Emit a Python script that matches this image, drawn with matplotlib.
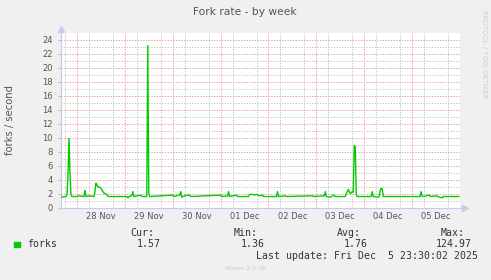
#!/usr/bin/env python3

import matplotlib
matplotlib.use("Agg")
import matplotlib.pyplot as plt

# Hours since 28 Nov 00:00 and fork rate (forks / second)
hours = [
    -8, -5.5, -5, -4.5, -4, -3.5, -3, -2.5, 0, 1, 3.5, 4, 4.5, 6, 8.5, 9,
    9.5, 10, 10.5, 11.5, 12, 13, 14, 15, 15.5, 20, 25, 25.5, 26, 27.5, 28,
    28.5, 32, 32.5, 35, 35.5, 36, 36.5, 48, 48.5, 51.5, 52, 52.5, 53, 55.5,
    56.5, 57, 72, 72.5, 75.5, 76, 76.5, 80, 80.5, 86, 86.5, 88, 89, 90, 91.5,
    93, 93.5, 100, 100.5, 101, 104.5, 105, 118, 118.5, 124, 124.5, 125, 127,
    127.5, 129, 129.5, 134.5, 135, 136, 137, 138, 138.5, 139, 139.5, 140,
    140.5, 142, 147.5, 148, 148.5, 151, 151.5, 152, 152.5, 153, 153.5, 172,
    172.5, 173, 173.5, 176.5, 177, 180, 183, 183.5, 191.5,
]
forks = [
    1.5, 1.6, 1.9, 4.5, 9.9, 5.0, 1.8, 1.6, 1.6, 1.7, 1.6, 2.5, 1.6, 1.7, 1.6, 2.2,
    3.5, 3.3, 3.0, 2.9, 2.8, 2.3, 2.0, 1.9, 1.6, 1.6, 1.6, 1.4, 1.6, 1.7, 2.3,
    1.6, 1.8, 1.6, 1.6, 23.2, 2.0, 1.6, 1.8, 1.6, 1.8, 2.3, 1.5, 1.6, 1.8,
    1.8, 1.6, 1.8, 1.6, 1.7, 2.3, 1.6, 1.8, 1.6, 1.6, 1.9, 1.9, 1.8, 1.9, 1.7,
    1.8, 1.6, 1.6, 2.3, 1.6, 1.7, 1.6, 1.7, 1.6, 1.7, 2.3, 1.6, 1.5,
    1.6, 1.8, 1.6, 1.6, 2.0, 2.6, 2.0, 2.3, 2.2, 8.9, 8.7, 1.8,
    1.6, 1.6, 1.6, 2.3, 1.6, 1.5, 1.6, 2.5, 2.8, 2.7, 1.6, 1.6,
    2.3, 1.7, 1.6, 1.8, 1.6, 1.7, 1.4, 1.6, 1.6,
]

day_labels = ["28 Nov", "29 Nov", "30 Nov", "01 Dec", "02 Dec", "03 Dec", "04 Dec", "05 Dec"]
label_pos = [12 + 24 * i for i in range(len(day_labels))]
day_bounds = [24 * i for i in range(9)]
six_hours = [h for h in range(-6, 192, 6) if h % 24 != 0]

stats_names = ["Cur:", "Min:", "Avg:", "Max:"]
stats_values = ["1.57", "1.36", "1.76", "124.97"]

W, H = 491, 280
fig = plt.figure(figsize=(W / 100, H / 100), dpi=100)
fig.patch.set_facecolor("#F0F0F0")

ax = fig.add_axes([61 / W, 1 - 207.7 / H, 399 / W, (207.7 - 33) / H])
ax.set_facecolor("white")
ax.set_xlim(-8, 192)
ax.set_ylim(0, 25)
ax.set_axisbelow(True)

grid_minor = dict(color="#C8C8C8", linestyle=(0, (1.4, 1.4)), linewidth=0.7)
grid_major = dict(color="#F0A0A0", linestyle=(0, (1.4, 1.4)), linewidth=0.7)

# y grid
ax.set_yticks(range(0, 25, 2))
ax.set_yticks(range(1, 25, 2), minor=True)
ax.yaxis.grid(True, which="major", **grid_major)
ax.yaxis.grid(True, which="minor", **grid_minor)
ax.tick_params(axis="y", which="major", length=2.5, width=0.7, color="#F0A0A0",
               labelsize=6, labelcolor="#555555", pad=3.5)
ax.tick_params(axis="y", which="minor", length=0)

# x grid
ax.set_xticks(label_pos, day_labels)
ax.set_xticks(six_hours, minor=True)
ax.xaxis.grid(True, which="minor", **grid_minor)
for d in day_bounds:
    ax.axvline(d, zorder=0.5, **grid_major)
ax.tick_params(axis="x", which="both", length=0, labelsize=6,
               labelcolor="#555555", pad=3)

for s in ax.spines.values():
    s.set_visible(False)

# axes lines with arrow heads
axis_col = "#C8C8F0"
ax.plot([-0.008, 1.012], [0, 0], color=axis_col, lw=0.8, transform=ax.transAxes, clip_on=False)
ax.plot([0, 0], [-0.01, 1.01], color=axis_col, lw=0.8, transform=ax.transAxes, clip_on=False)
ax.plot([1.012], [0], marker=">", ms=4, color=axis_col, transform=ax.transAxes, clip_on=False)
ax.plot([0], [1.025], marker="^", ms=4, color=axis_col, transform=ax.transAxes, clip_on=False)

ax.plot(hours, forks, color="#00CC00", linewidth=1.0, zorder=3)

# texts
fig.text(245 / W, 1 - 12 / H, "Fork rate - by week", ha="center", va="center",
         fontsize=7.7, color="#555555")
fig.text(10 / W, 1 - 120 / H, "forks / second", rotation=90, ha="center", va="center",
         fontsize=7.2, color="#555555")
fig.text(484 / W, 1 - 54 / H, "RRDTOOL / TOBI OETIKER", rotation=270, ha="center",
         va="center", fontsize=5, color="#D0D0D0")

mono = dict(family="DejaVu Sans Mono", fontsize=7.1, color="#333333", va="center")
fig.patches.append(plt.Rectangle((14 / W, 1 - 246.7 / H), 6 / W, 4.5 / H,
                                 transform=fig.transFigure, color="#00CC00"))
fig.text(26.7 / W, 1 - 244.3 / H, "forks", **mono)
name_x = [130, 234, 337.3, 441]
value_x = [136.7, 240.7, 343.3, 435.7]
for n, x in zip(stats_names, name_x):
    fig.text(x / W, 1 - 233.3 / H, n, **mono)
for v, x in zip(stats_values, value_x):
    fig.text(x / W, 1 - 244.3 / H, v, **mono)
fig.text(256 / W, 1 - 256 / H, "Last update: Fri Dec  5 23:30:02 2025", **mono)
fig.text(245 / W, 1 - 268.7 / H, "Munin 2.0.76", ha="center", va="center",
         fontsize=4.5, color="#C8C8C8")

fig.savefig("out.png", dpi=100, facecolor=fig.get_facecolor())
